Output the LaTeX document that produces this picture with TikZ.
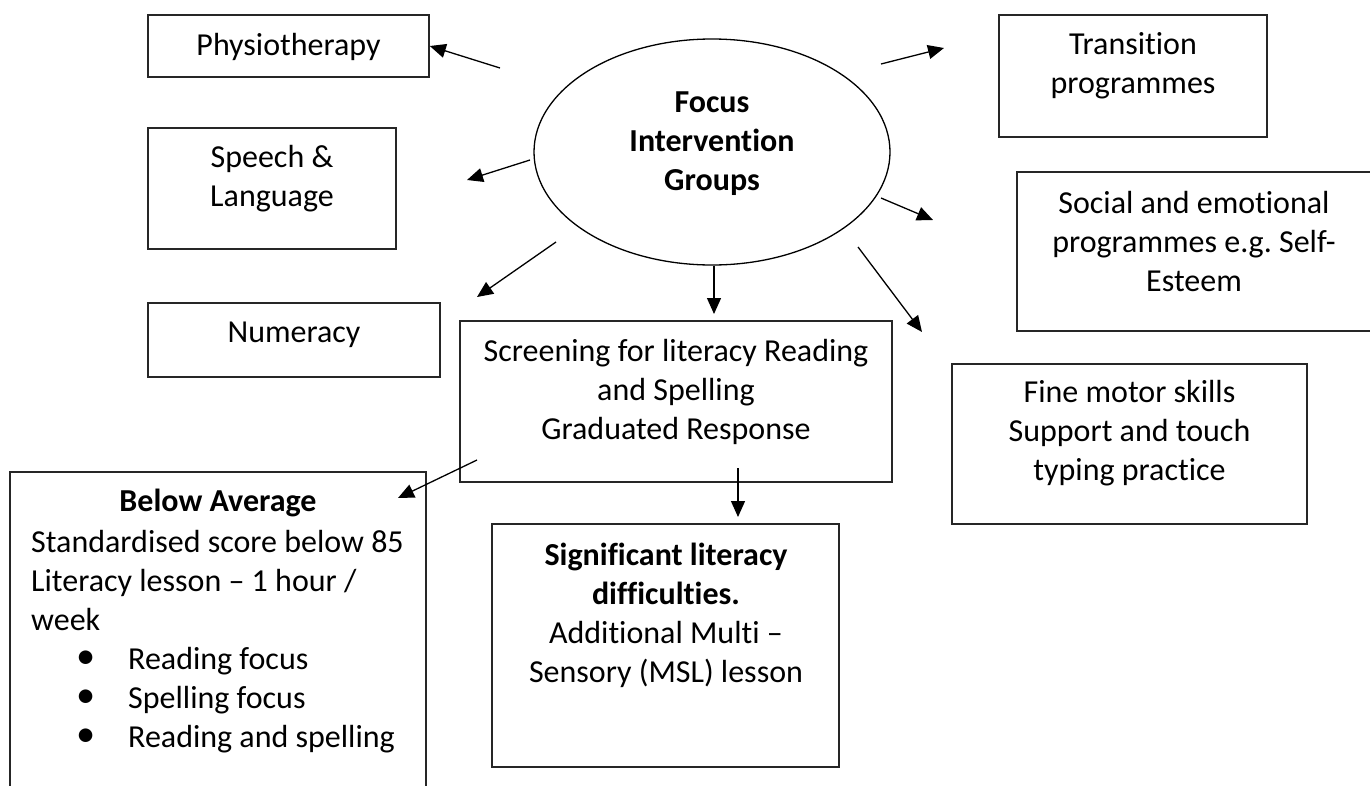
\documentclass[tikz,border=0pt]{standalone}
\usepackage{fontspec}
\setmainfont{Carlito}[Ligatures=NoCommon]
\usetikzlibrary{arrows.meta,shapes.geometric}
\begin{document}
\frenchspacing
\begin{tikzpicture}[x=1pt,y=-1pt,
  box/.style={draw=black!85, line width=1.6pt, rectangle, inner sep=0pt},
  txt/.style={inner sep=0pt, align=center, font=\fontsize{32}{39}\selectfont},
  conn/.style={line width=1.3pt, -{Triangle[length=16pt,width=14pt]}}]
\useasboundingbox (0,0) rectangle (1370,785);
\fill[white] (0,0) rectangle (1370,785);

% boxes
\node[box, minimum width=281pt, minimum height=62pt] (physio) at (288.5,46) {};
\node[box, minimum width=248pt, minimum height=121pt] (speech) at (272,188.5) {};
\node[box, minimum width=292pt, minimum height=74pt] (numeracy) at (294,340) {};
\node[box, minimum width=268pt, minimum height=122pt] (transition) at (1133,76) {};
\node[box, minimum width=354pt, minimum height=159pt] (social) at (1194,251.5) {};
\node[box, minimum width=432pt, minimum height=161pt] (screening) at (676,401.5) {};
\node[box, minimum width=355pt, minimum height=160pt] (fine) at (1129.5,444) {};
\node[box, minimum width=416pt, minimum height=330pt] (below) at (218,637) {};
\node[box, minimum width=347pt, minimum height=243pt] (signif) at (665.5,645.5) {};
\node[draw, ellipse, line width=1.3pt, minimum width=356pt, minimum height=226pt] (focus) at (712,152) {};

% texts
\node[txt] (physiot) at (288.5,47) {Physiotherapy};
\node[txt] (speecht) at (272,179) {Speech \&\\Language};
\node[txt] (numeracyt) at (294,335) {Numeracy};
\node[txt, font=\fontsize{32}{39}\selectfont\bfseries] (focust) at (712,144) {Focus\\Intervention\\Groups};
\node[txt] (transitiont) at (1133,66) {Transition\\programmes};
\node[txt] (socialt) at (1194,242) {Social and emotional\\programmes e.g. Self-\\Esteem};
\node[txt] (screeningt) at (676,392) {Screening for literacy Reading\\and Spelling\\Graduated Response};
\node[txt] (finet) at (1129.5,433) {Fine motor skills\\Support and touch\\typing practice};
\node[txt] (signift) at (666,615) {\textbf{Significant literacy}\\\textbf{difficulties.}\\Additional Multi –\\Sensory (MSL) lesson};
\node[txt, font=\fontsize{32}{39}\selectfont\bfseries] (belowh) at (218,503) {Below Average};
\node[txt, align=left, anchor=west] (belowt) at (31,642) {Standardised score below 85\\Literacy lesson – 1 hour /\\week\\
\hspace*{45pt}\makebox[52pt][l]{\raisebox{1pt}{\scalebox{1.2}{•}}}Reading focus\\
\hspace*{45pt}\makebox[52pt][l]{\raisebox{1pt}{\scalebox{1.2}{•}}}Spelling focus\\
\hspace*{45pt}\makebox[52pt][l]{\raisebox{1pt}{\scalebox{1.2}{•}}}Reading and spelling};

% connector end points
\coordinate (s1) at (500,68);
\coordinate (s2) at (530,160);  \coordinate (e2) at (467,180);
\coordinate (s3) at (556,242);  \coordinate (e3) at (477,297);
\coordinate (e4) at (714,314);
\coordinate (s5) at (881,64);   \coordinate (e5) at (944,48);
\coordinate (s6) at (881,198);  \coordinate (e6) at (933,220);
\coordinate (s7) at (858,247);  \coordinate (e7) at (922,332);
\coordinate (s8) at (477,460);  \coordinate (e8) at (398,498);
\coordinate (s9) at (738,468);  \coordinate (e9) at (738,517);

% connectors
\draw[conn] (s1) -- (physio.east);
\draw[conn] (s2) -- (e2);
\draw[conn] (s3) -- (e3);
\draw[conn] (focus.south -| e4) -- (e4);
\draw[conn] (s5) -- (e5);
\draw[conn] (s6) -- (e6);
\draw[conn] (s7) -- (e7);
\draw[conn] (s8) -- (e8);
\draw[conn] (s9) -- (e9);
\end{tikzpicture}
\end{document}
